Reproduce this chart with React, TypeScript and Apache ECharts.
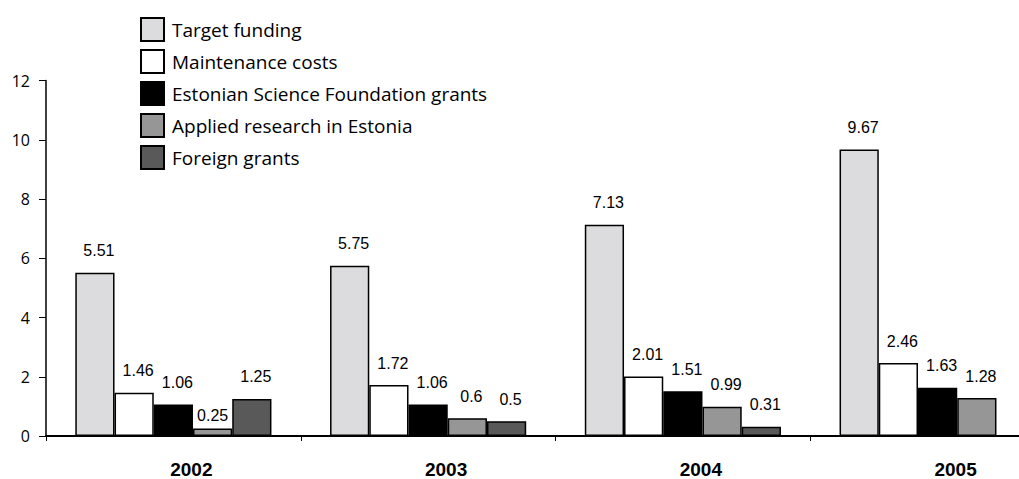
import React, { useEffect, useRef } from "react";
import * as echarts from "echarts";

const years = ["2002", "2003", "2004", "2005"];
const seriesNames = [
  "Target funding",
  "Maintenance costs",
  "Estonian Science Foundation grants",
  "Applied research in Estonia",
  "Foreign grants",
];
const targetFunding = [5.51, 5.75, 7.13, 9.67];
const maintenanceCosts = [1.46, 1.72, 2.01, 2.46];
const esfGrants = [1.06, 1.06, 1.51, 1.63];
const appliedResearch = [0.25, 0.6, 0.99, 1.28];
const foreignGrants: (number | null)[] = [1.25, 0.5, 0.31, null];
const yTicks = { min: 0, max: 12, interval: 2 };

const colors = ["#dcdcde", "#ffffff", "#000000", "#969696", "#595959"];

export default function App() {
  const ref = useRef<HTMLDivElement>(null);
  useEffect(() => {
    if (!ref.current) return;
    const chart = echarts.init(ref.current, undefined, { renderer: "svg" });
    const allData = [targetFunding, maintenanceCosts, esfGrants, appliedResearch, foreignGrants];
    const labelFont = { fontFamily: "Liberation Sans, Arial, sans-serif", fontSize: 16, color: "#000" };
    const series = allData.map((arr, i) => ({
      name: seriesNames[i],
      type: "bar",
      barGap: "0%",
      barCategoryGap: "23%",
      itemStyle: { color: colors[i], borderColor: "#000", borderWidth: 1.5 },
      label: {
        show: true,
        position: "top",
        distance: 14,
        offset: [4, 0],
        ...labelFont,
        formatter: (p: any) => String(p.value),
      },
      data: arr.map((v) => {
        if (v === null) return "-";
        if (i === 3 && v === 0.25) return { value: v, label: { distance: 5, offset: [0, 0] } };
        return v;
      }),
    }));
    chart.setOption({
      animation: false,
      legend: {
        orient: "vertical",
        left: 135,
        top: 12,
        itemWidth: 23,
        itemHeight: 23,
        itemGap: 7,
        icon: "rect",
        textStyle: { fontFamily: "Open Sans, sans-serif", fontSize: 19, color: "#000", padding: [0, 0, 0, 3] },
        data: seriesNames,
      },
      grid: { left: 46, right: 0, top: 80.5, bottom: 42.3, containLabel: false },
      xAxis: {
        type: "category",
        data: years,
        axisLine: { lineStyle: { color: "#000", width: 2 } },
        axisTick: { show: true, length: 5, inside: false, lineStyle: { color: "#000", width: 1 } },
        axisLabel: {
          margin: 24,
          fontFamily: "Liberation Sans, Arial, sans-serif",
          fontWeight: "bold",
          fontSize: 19,
          color: "#000",
          padding: [0, 0, 0, 36],
        },
      },
      yAxis: {
        type: "value",
        min: yTicks.min,
        max: yTicks.max,
        interval: yTicks.interval,
        splitLine: { show: false },
        axisLine: { show: true, lineStyle: { color: "#000", width: 1.5 } },
        axisTick: { show: true, length: 7, lineStyle: { color: "#000", width: 1 } },
        axisLabel: {
          margin: 16,
          fontFamily: "Open Sans, sans-serif",
          fontSize: 16,
          color: "#000",
        },
      },
      series,
    });
    return () => chart.dispose();
  }, []);
  return (
    <div style={{ position: "fixed", left: 0, top: 0, width: 1019, height: 479, overflow: "hidden", background: "#fff" }}>
      <div ref={ref} style={{ position: "absolute", left: 0, top: 0, width: 1065, height: 479 }} />
    </div>
  );
}
